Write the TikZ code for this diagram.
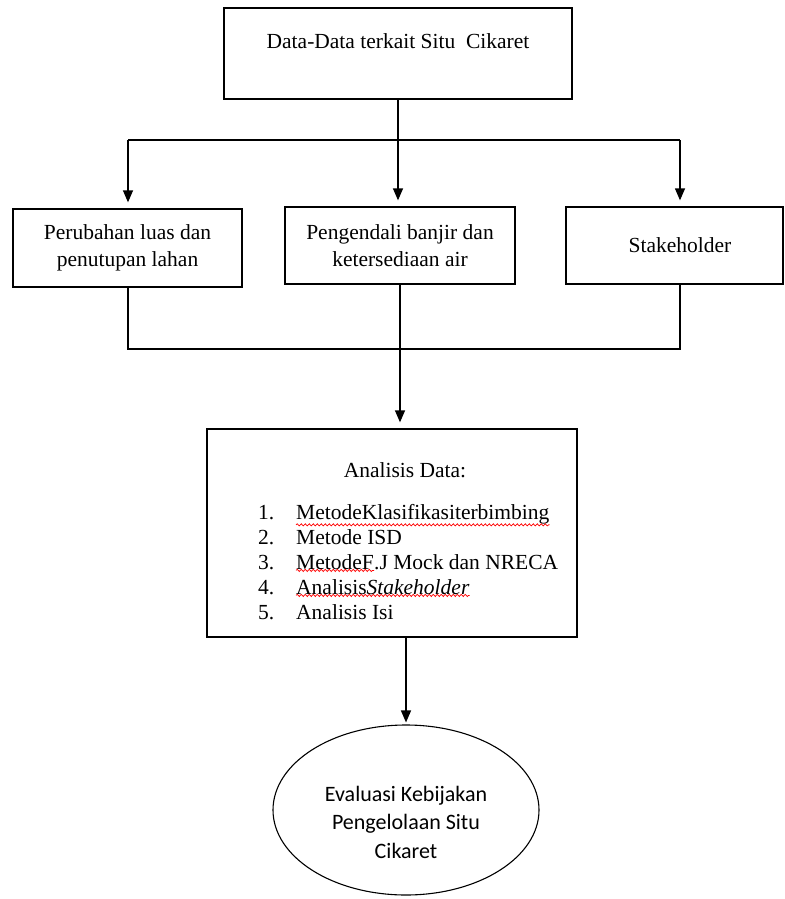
\documentclass[tikz,border=0pt]{standalone}
\usepackage{fontspec}
\setmainfont{Liberation Serif}
\newfontfamily\calfont{Carlito}
\usetikzlibrary{arrows.meta,shapes.geometric,decorations.pathmorphing}
\begin{document}
\begin{tikzpicture}[x=1pt,y=-1pt,
  box/.style={draw,line width=1.3pt,inner sep=0pt,align=center,font=\fontsize{21.5}{26.5}\selectfont},
  conn/.style={line width=1.3pt},
  arr/.style={conn,-{Triangle[width=10pt,length=12pt]},shorten >=6pt},
  txt/.style={font=\fontsize{21.5}{26}\selectfont,align=center,inner sep=0pt},
  itm/.style={font=\fontsize{21.5}{26}\selectfont,inner sep=0pt,anchor=base west},
  wavy/.style={red,line width=0.7pt,decorate,decoration={snake,amplitude=1.1pt,segment length=4pt}}
]
\useasboundingbox (0,0) rectangle (784,899);
% top box
\node[box,minimum width=348pt,minimum height=91pt] (top) at (398,53.5) {};
\node[txt] (toptxt) at (398,41) {Data-Data terkait Situ\ \ Cikaret};
% second row
\node[box,minimum width=229pt,minimum height=78pt] (b1) at (127.5,248) {Perubahan luas dan\\penutupan lahan};
\node[box,minimum width=230pt,minimum height=77pt] (b2) at (400,245.5) {Pengendali banjir dan\\ketersediaan air};
\node[box,minimum width=217pt,minimum height=77pt] (b3) at (674.5,245.5) {};
\node[txt] (b3txt) at (680,245) {Stakeholder};
% branch lines
\coordinate (bl) at (128,140);
\coordinate (br) at (680,140);
\draw[conn] (top.south) -- (top.south |- bl);
\draw[conn] (bl) -- (br);
\draw[arr] (bl) -- (bl |- b1.north);
\draw[arr] (top.south |- bl) -- (top.south |- b2.north);
\draw[arr] (br) -- (br |- b3.north);
% analysis box
\node[box,minimum width=370pt,minimum height=208pt] (ana) at (392,533) {};
\node[txt] (anatitle) at (405,470) {Analisis Data:};
\coordinate (cl) at (128,349);
\coordinate (cr) at (680,349);
\draw[conn] (cl |- b1.south) -- (cl) -- (cr) -- (cr |- b3.south);
\draw[arr] (b2.south) -- (b2.south |- ana.north);
% list
\node[itm] (n1) at (258,519) {1.};
\node[itm] (n2) at (258,544) {2.};
\node[itm] (n3) at (258,569) {3.};
\node[itm] (n4) at (258,594) {4.};
\node[itm] (n5) at (258,619) {5.};
\node[itm] (i1) at (296,519) {MetodeKlasifikasiterbimbing};
\node[itm] (i2) at (296,544) {Metode ISD};
\node[itm] (i3a) at (296,569) {MetodeF};
\node[itm] (i3b) at (i3a.base east) {.J Mock dan NRECA};
\node[itm] (i4) at (296,594) {Analisis\textit{Stakeholder}};
\node[itm] (i5) at (296,619) {Analisis Isi};
\draw[wavy] ([yshift=-1pt]i1.south west) -- ([yshift=-1pt]i1.south east);
\draw[wavy] ([yshift=-1pt]i3a.south west) -- ([yshift=-1pt]i3a.south east);
\draw[wavy] ([yshift=-1pt]i4.south west) -- ([yshift=-1pt]i4.south east);
% ellipse
\node[draw,ellipse,line width=1.1pt,minimum width=266pt,minimum height=170pt,inner sep=0pt] (ell) at (406,810) {};
\node[font=\calfont\fontsize{22}{28.5}\selectfont,align=center,inner sep=0pt] (elltxt) at (406,822) {Evaluasi Kebijakan\\Pengelolaan Situ\\Cikaret};
\draw[arr,shorten >=2pt] (ell.north |- ana.south) -- (ell.north);
\end{tikzpicture}
\end{document}
